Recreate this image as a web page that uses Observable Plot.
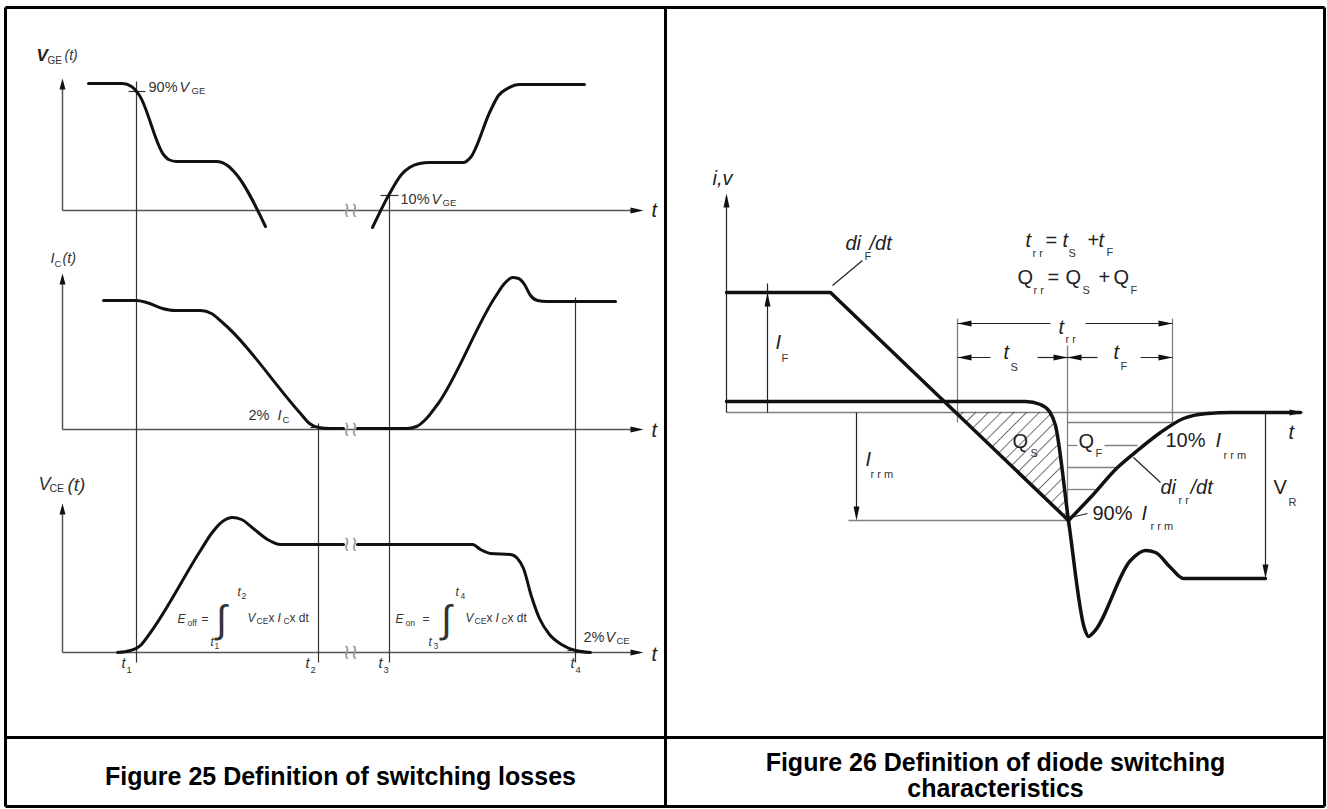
<!DOCTYPE html>
<html>
<head>
<meta charset="utf-8">
<script src="https://cdn.jsdelivr.net/npm/d3@7"></script>
<script src="https://cdn.jsdelivr.net/npm/@observablehq/plot@0.6"></script>
<style>
  html, body { margin: 0; padding: 0; background: #fff; }
</style>
</head>
<body>
<div id="chart"></div>
<script>
// ---------- Figure 25: switching waveforms (diagram units = page pixels) ----------
const vgeTurnOff = [[88,83],[122,83],[131,86],[139,95],[163,154],[168,159],[176,161],[216,161],[227,165],[236,174],[265,226]];
const vgeTurnOn  = [[372,227],[388,195],[401,174],[409,167],[419,163],[429,162],[463,162],[470,157],[490,110],[498,95],[507,88],[519,84],[584,84]];
const icTurnOff  = [[103,300],[136,300],[146,302],[162,308],[174,310],[200,310],[211,313],[222,322],[300,413],[309,423],[318,427],[328,428],[343,428]];
const icTurnOn   = [[357,428],[406,428],[416,426],[426,418],[437,404],[495,296],[504,283],[512,277],[518,278],[524,284],[530,295],[537,300],[546,301],[615,301]];
const vceTurnOff = [[117,652],[130,650],[140,645],[150,632],[200,550],[211,533],[222,521],[232,517],[241,519],[254,529],[267,539],[280,544],[343,544]];
const vceTurnOn  = [[357,544],[472,544],[480,549],[490,553],[510,554],[517,558],[523,568],[531,596],[539,618],[549,634],[561,644],[575,650],[590,652]];

// axes of the three stacked plots: [baseline y, arrow tip y]
const leftAxes = [[210,78],[429,273],[652,503]];
const leftAxisX = [62, 643];
const breakMarks = [[350,210],[350,429],[350,544],[350,652]];
// time markers t1..t4: [x, y top, y bottom]
const timeLines = [[136,81,662],[318,423,662],[389,195,662],[575,297,662]];
// level ticks: [x1, x2, y]
const levelTicks = [[128,145,91],[380,398,195],[310,327,427],[567,583,650]];

// ---------- Figure 26: diode reverse recovery ----------
const currentFall = [[726,292],[830,292],[1068,520]];
const currentRise = [[1068,520],[1090,497],[1117,467],[1137,450],[1160,432],[1183,418],[1207,413],[1230,412],[1300,412]];
const diodeVoltage = [[726,401],[1025,401],[1040,404],[1049,411],[1055,425],[1068,520],[1084,628],[1088,636],[1093,632],[1130,560],[1145,550],[1155,552],[1170,567],[1183,578],[1203,578],[1265,578]];
const qsRegion = [
  {y:412, x1:955, x2:1049},{y:425, x1:969, x2:1055},{y:450, x1:995, x2:1058},
  {y:480, x1:1026, x2:1063},{y:520, x1:1068, x2:1068}
];
// thin grey guide lines [x1,y1,x2,y2]
const guideLines = [
  [726,412,1210,412],[848,520,1068,520],[1067,422,1172,422],
  [1067,445,1077,445],[1104,445,1137,445],[1067,467,1117,467],[1067,489,1095,489],
  [957,318,957,422],[1067,345,1067,525],[1172,318,1172,422]
];
// thin black lines (axis, dimension arrows, leaders) [x1,y1,x2,y2]
const dimLines = [
  [726,412,726,196],[767,412,767,283],[856,412,856,512],[1265,412,1265,570],
  [957,323,1050,323],[1085,323,1172,323],
  [957,357,990,357],[1037,357,1067,357],[1067,357,1097,357],[1140,357,1172,357],
  [832,285,862,260],[1133,457,1160,482],[1070,517,1087,513]
];
const headsUp = [[726,193],[767,292]];
const headsDown = [[856,520],[1265,578]];
const headsLeft = [[957,323],[957,357],[1067,357]];
const headsRight = [[1172,323],[1067,357],[1172,357],[1303,412]];

// ---------- table frame [x1,y1,x2,y2] ----------
const frame = [[5,7,1324,7],[5,806,1324,806],[5,7,5,806],[1324,7,1324,806],[665,7,665,806],[5,737,1324,737]];

// ---------- labels [text, x, y] ----------
const leftPlain = [["90%",148,87],["10%",400,199],["2%",248,415],["2%",583,637]];
const leftItalic = [["V",179,87],["V",431,199],["I",277,415],["V",605,637],
  ["t",121,663],["t",305,663],["t",378,663],["t",570,663],["I",50,258],["(t)",62,258]];
const leftSub = [["GE",191,90],["GE",442,202],["C",282,419],["CE",616,640],
  ["1",126,669],["2",310,669],["3",383,669],["4",575,669],["C",54,263]];
const vgeTitle = [["V",36,55]];
const vgeTitleSub = [["GE",47,60]];
const vgeTitleT = [["(t)",64,55]];
const vceTitle = [["V",38,484]];
const vceTitleSub = [["CE",49,488]];
const vceTitleT = [["(t)",67,484]];
const leftTimeAxis = [["t",651,210],["t",651,430],["t",651,654]];
const formulaItalic = [["E",177,619],["E",395,619],["V",247,618],["I",277,618],["V",465,618],["I",495,618],
  ["t",237,592],["t",210,642],["t",455,592],["t",428,642]];
const formulaPlain = [["=",201,619],["=",422,619],["x",268,618],["x dt",289,618],["x",486,618],["x dt",507,618]];
const formulaSub = [["off",187,623],["on",405,623],["CE",256,621],["C",283,621],["CE",474,621],["C",501,621],
  ["2",241,596],["1",214,646],["4",460,596],["3",433,646]];
const integrals = [["∫",221,619],["∫",446,619]];

const rightItalic = [["i,v",712,178],["di",845,243],["/dt",869,243],["t",1025,240],["t",1062,240],["t",1098,240],
  ["t",1058,327],["t",1003,352],["t",1113,352],["I",775,342],["I",865,459],["I",1215,440],
  ["di",1160,487],["/dt",1190,487],["I",1141,513],["t",1288,432]];
const rightPlain = [["=",1045,240],["+",1087,240],["Q",1017,277],["=",1047,277],["Q",1065,277],["+",1098,277],
  ["Q",1113,277],["Q",1012,441],["Q",1078,441],["10%",1165,440],["V",1273,487],["90%",1092,513]];
const rightSub = [["F",864,256],["r r",1032,253],["S",1068,253],["F",1106,252],["r r",1033,290],["S",1082,290],
  ["F",1130,290],["r r",1065,339],["S",1010,367],["F",1120,366],["F",781,358],["r r m",870,474],["S",1030,453],
  ["F",1095,453],["r r m",1223,455],["r r",1178,500],["R",1288,502],["r r m",1150,526]];

const captions = [["Figure 25 Definition of switching losses",340,776],
  ["Figure 26 Definition of diode switching",995,762],["characteristics",995,788]];

// ---------- helpers ----------
const W = 1327, H = 809;
const SANS = "'Liberation Sans', Arial, Helvetica, sans-serif";
function head(len, half, dir) {
  const p = {
    up: [[0,0],[-half,len],[half,len]],
    down: [[0,0],[-half,-len],[half,-len]],
    left: [[0,0],[len,-half],[len,half]],
    right: [[0,0],[-len,-half],[-len,half]]
  }[dir];
  return {draw(ctx) { ctx.moveTo(p[0][0],p[0][1]); ctx.lineTo(p[1][0],p[1][1]); ctx.lineTo(p[2][0],p[2][1]); ctx.closePath(); }};
}
const pt = {x: d => d[0], y: d => d[1]};
const seg = {x1: d => d[0], y1: d => d[1], x2: d => d[2], y2: d => d[3]};
const txt = (rows, o) => Plot.text(rows, {x: d => d[1], y: d => d[2], text: d => d[0],
  textAnchor: "start", fontFamily: SANS, ...o});
const curve = (data, w) => Plot.line(data, {...pt, curve: "monotone-x", stroke: "#111",
  strokeWidth: w, strokeLinejoin: "round", strokeLinecap: "round"});

const leftHeadsUp = leftAxes.map(([y0, top]) => [leftAxisX[0], top]);
const leftHeadsRight = leftAxes.map(([y0]) => [leftAxisX[1], y0]);
const leftAxisLines = leftAxes.flatMap(([y0, top]) => [
  [leftAxisX[0], y0, leftAxisX[0], top + 4], [leftAxisX[0], y0, leftAxisX[1] - 4, y0]]);

const chart = Plot.plot({
  width: W, height: H, margin: 0,
  x: {domain: [0, W], range: [0, W], axis: null},
  y: {domain: [0, H], range: [0, H], axis: null},
  style: {background: "#fff", overflow: "visible"},
  marks: [
    // Figure 25
    Plot.link(leftAxisLines, {...seg, stroke: "#555", strokeWidth: 1.5}),
    Plot.link(timeLines, {x1: d => d[0], x2: d => d[0], y1: d => d[1], y2: d => d[2], stroke: "#333", strokeWidth: 1.2}),
    Plot.link(levelTicks, {x1: d => d[0], x2: d => d[1], y1: d => d[2], y2: d => d[2], stroke: "#333", strokeWidth: 1.2}),
    curve(vgeTurnOff, 3), curve(vgeTurnOn, 3),
    curve(icTurnOff, 3), curve(icTurnOn, 3),
    curve(vceTurnOff, 3), curve(vceTurnOn, 3),
    Plot.dot(leftHeadsUp, {...pt, symbol: head(11, 3, "up"), fill: "#111", stroke: "none"}),
    Plot.dot(leftHeadsRight, {...pt, symbol: head(13, 3, "right"), fill: "#111", stroke: "none"}),
    Plot.text(breakMarks, {...pt, text: () => "≀≀", fontFamily: "'DejaVu Sans'", fontSize: 21, fill: "#999"}),

    // Figure 26
    Plot.link(guideLines, {...seg, stroke: "#808080", strokeWidth: 1.3}),
    Plot.areaX(qsRegion, {y: "y", x1: "x1", x2: "x2", fill: "url(#hatch)", curve: "linear"}),
    Plot.link(dimLines, {...seg, stroke: "#222", strokeWidth: 1.2}),
    Plot.line(currentFall, {...pt, curve: "linear", stroke: "#111", strokeWidth: 3.5, strokeLinejoin: "round"}),
    curve(currentRise, 3.5),
    curve(diodeVoltage, 3.5),
    Plot.dot(headsUp, {...pt, symbol: head(14, 3, "up"), fill: "#111", stroke: "none"}),
    Plot.dot(headsDown, {...pt, symbol: head(14, 3, "down"), fill: "#111", stroke: "none"}),
    Plot.dot(headsLeft, {...pt, symbol: head(14, 3, "left"), fill: "#111", stroke: "none"}),
    Plot.dot(headsRight, {...pt, symbol: head(14, 3, "right"), fill: "#111", stroke: "none"}),

    // table frame
    Plot.link(frame, {...seg, stroke: "#000", strokeWidth: 3}),

    // labels Figure 25
    txt(leftPlain, {fontSize: 14.5, fill: "#333"}),
    txt(leftItalic, {fontSize: 14.5, fontStyle: "italic", fill: "#333"}),
    txt(leftSub, {fontSize: 9.5, fill: "#333"}),
    txt(vgeTitle, {fontSize: 17, fontStyle: "italic", fontWeight: "bold", fill: "#222"}),
    txt(vgeTitleSub, {fontSize: 10, fill: "#333"}),
    txt(vgeTitleT, {fontSize: 14, fontStyle: "italic", fill: "#333"}),
    txt(vceTitle, {fontSize: 18, fontStyle: "italic", fill: "#333"}),
    txt(vceTitleSub, {fontSize: 10.5, fill: "#333"}),
    txt(vceTitleT, {fontSize: 19, fontStyle: "italic", fill: "#333"}),
    txt(leftTimeAxis, {fontSize: 20, fontStyle: "italic", fill: "#222"}),
    txt(formulaItalic, {fontSize: 12, fontStyle: "italic", fill: "#333"}),
    txt(formulaPlain, {fontSize: 12, fill: "#333"}),
    txt(formulaSub, {fontSize: 8.5, fill: "#333"}),
    txt(integrals, {fontSize: 38, fill: "#333", textAnchor: "middle", fontStyle: "italic"}),

    // labels Figure 26
    txt(rightItalic, {fontSize: 20, fontStyle: "italic", fill: "#222"}),
    txt(rightPlain, {fontSize: 20, fill: "#222"}),
    txt(rightSub, {fontSize: 11, fill: "#333"}),

    // captions
    txt(captions, {fontSize: 25, fontWeight: "bold", fill: "#000", textAnchor: "middle"})
  ]
});

// hatch pattern for the Q_S area
const NS = "http://www.w3.org/2000/svg";
const defs = document.createElementNS(NS, "defs");
const pat = document.createElementNS(NS, "pattern");
pat.setAttribute("id", "hatch");
pat.setAttribute("patternUnits", "userSpaceOnUse");
pat.setAttribute("width", "9");
pat.setAttribute("height", "9");
pat.setAttribute("patternTransform", "rotate(45)");
const ln = document.createElementNS(NS, "line");
ln.setAttribute("x1", "0"); ln.setAttribute("y1", "0");
ln.setAttribute("x2", "0"); ln.setAttribute("y2", "9");
ln.setAttribute("stroke", "#333"); ln.setAttribute("stroke-width", "1.4");
pat.appendChild(ln);
defs.appendChild(pat);
chart.insertBefore(defs, chart.firstChild);

document.getElementById("chart").appendChild(chart);
</script>
</body>
</html>
